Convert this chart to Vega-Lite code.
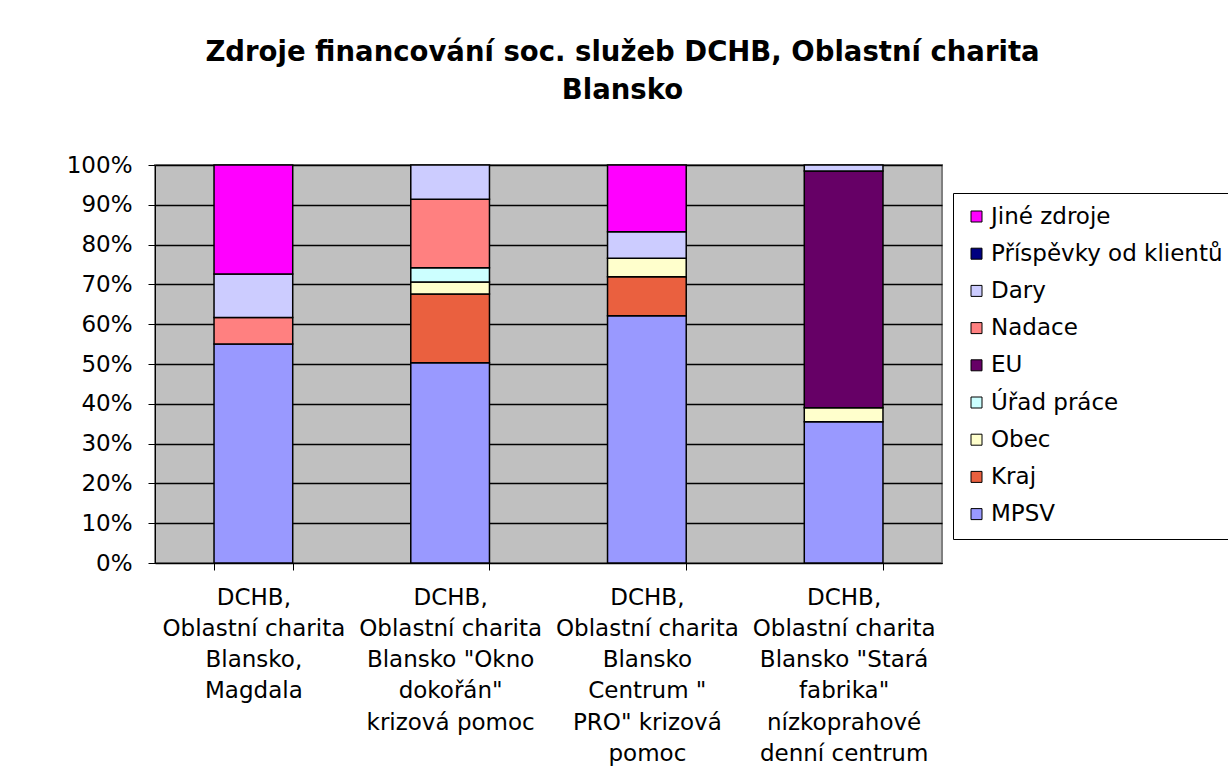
{
  "$schema": "https://vega.github.io/schema/vega-lite/v6.json",
  "autosize": "none",
  "width": 787,
  "height": 398,
  "padding": {"left": 155, "top": 165, "right": 286, "bottom": 220},
  "background": "white",
  "title": {
    "text": ["Zdroje financování soc. služeb DCHB, Oblastní charita", "Blansko"],
    "font": "DejaVu Sans",
    "fontSize": 27.5,
    "fontWeight": "bold",
    "color": "black",
    "anchor": "middle",
    "frame": "group",
    "dx": 74,
    "offset": 50,
    "lineHeight": 38
  },
  "data": {
    "values": [
      {"zarizeni": "DCHB,|Oblastní charita|Blansko,|Magdala", "zdroj": "MPSV", "podil": 55.0},
      {"zarizeni": "DCHB,|Oblastní charita|Blansko,|Magdala", "zdroj": "Nadace", "podil": 6.7},
      {"zarizeni": "DCHB,|Oblastní charita|Blansko,|Magdala", "zdroj": "Dary", "podil": 10.9},
      {"zarizeni": "DCHB,|Oblastní charita|Blansko,|Magdala", "zdroj": "Jiné zdroje", "podil": 27.4},
      {"zarizeni": "DCHB,|Oblastní charita|Blansko \"Okno|dokořán\"|krizová pomoc", "zdroj": "MPSV", "podil": 50.3},
      {"zarizeni": "DCHB,|Oblastní charita|Blansko \"Okno|dokořán\"|krizová pomoc", "zdroj": "Kraj", "podil": 17.3},
      {"zarizeni": "DCHB,|Oblastní charita|Blansko \"Okno|dokořán\"|krizová pomoc", "zdroj": "Obec", "podil": 3.0},
      {"zarizeni": "DCHB,|Oblastní charita|Blansko \"Okno|dokořán\"|krizová pomoc", "zdroj": "Úřad práce", "podil": 3.6},
      {"zarizeni": "DCHB,|Oblastní charita|Blansko \"Okno|dokořán\"|krizová pomoc", "zdroj": "Nadace", "podil": 17.2},
      {"zarizeni": "DCHB,|Oblastní charita|Blansko \"Okno|dokořán\"|krizová pomoc", "zdroj": "Dary", "podil": 8.6},
      {"zarizeni": "DCHB,|Oblastní charita|Blansko|Centrum \"|PRO\" krizová|pomoc", "zdroj": "MPSV", "podil": 62.1},
      {"zarizeni": "DCHB,|Oblastní charita|Blansko|Centrum \"|PRO\" krizová|pomoc", "zdroj": "Kraj", "podil": 9.8},
      {"zarizeni": "DCHB,|Oblastní charita|Blansko|Centrum \"|PRO\" krizová|pomoc", "zdroj": "Obec", "podil": 4.7},
      {"zarizeni": "DCHB,|Oblastní charita|Blansko|Centrum \"|PRO\" krizová|pomoc", "zdroj": "Dary", "podil": 6.6},
      {"zarizeni": "DCHB,|Oblastní charita|Blansko|Centrum \"|PRO\" krizová|pomoc", "zdroj": "Jiné zdroje", "podil": 16.8},
      {"zarizeni": "DCHB,|Oblastní charita|Blansko \"Stará|fabrika\"|nízkoprahové|denní centrum", "zdroj": "MPSV", "podil": 35.5},
      {"zarizeni": "DCHB,|Oblastní charita|Blansko \"Stará|fabrika\"|nízkoprahové|denní centrum", "zdroj": "Obec", "podil": 3.5},
      {"zarizeni": "DCHB,|Oblastní charita|Blansko \"Stará|fabrika\"|nízkoprahové|denní centrum", "zdroj": "EU", "podil": 59.5},
      {"zarizeni": "DCHB,|Oblastní charita|Blansko \"Stará|fabrika\"|nízkoprahové|denní centrum", "zdroj": "Dary", "podil": 1.5}
    ]
  },
  "transform": [
    {"calculate": "indexof(['MPSV','Kraj','Obec','Úřad práce','EU','Nadace','Dary','Příspěvky od klientů','Jiné zdroje'], datum.zdroj)", "as": "poradi"}
  ],
  "mark": {"type": "bar", "stroke": "black", "strokeWidth": 1.5},
  "encoding": {
    "x": {
      "field": "zarizeni",
      "type": "nominal",
      "sort": null,
      "scale": {"paddingInner": 0.6, "paddingOuter": 0.3},
      "axis": {
        "title": null,
        "labelAngle": 0,
        "labelExpr": "split(datum.label, '|')",
        "labelFont": "DejaVu Sans",
        "labelFontSize": 23,
        "labelColor": "black",
        "labelLineHeight": 31.3,
        "labelBaseline": "top",
        "labelPadding": 16,
        "tickBand": "extent",
        "tickColor": "black",
        "tickSize": 7,
        "domainColor": "black",
        "labelLimit": 0
      }
    },
    "y": {
      "field": "podil",
      "type": "quantitative",
      "stack": "normalize",
      "axis": {
        "title": null,
        "format": ".0%",
        "values": [0, 0.1, 0.2, 0.3, 0.4, 0.5, 0.6, 0.7, 0.8, 0.9, 1],
        "labelFont": "DejaVu Sans",
        "labelFontSize": 23,
        "labelColor": "black",
        "labelPadding": 16,
        "tickColor": "black",
        "tickSize": 7,
        "domainColor": "black",
        "grid": true,
        "gridColor": "black",
        "gridWidth": 1.5
      }
    },
    "order": {"field": "poradi", "type": "quantitative"},
    "color": {
      "field": "zdroj",
      "type": "nominal",
      "scale": {
        "domain": ["Jiné zdroje", "Příspěvky od klientů", "Dary", "Nadace", "EU", "Úřad práce", "Obec", "Kraj", "MPSV"],
        "range": ["#FF00FF", "#000080", "#CCCCFF", "#FF8080", "#660066", "#CCFFFF", "#FFFFCC", "#EA603F", "#9999FF"]
      },
      "legend": {
        "title": null,
        "orient": "none",
        "legendX": 798,
        "legendY": 28,
        "padding": 12,
        "strokeColor": "black",
        "fillColor": "white",
        "symbolType": "square",
        "symbolSize": 121,
        "symbolStrokeColor": "black",
        "symbolStrokeWidth": 1,
        "labelFont": "DejaVu Sans",
        "labelFontSize": 23,
        "labelColor": "black",
        "labelLimit": 300,
        "rowPadding": 13.2,
        "labelOffset": 3,
        "values": ["Jiné zdroje", "Příspěvky od klientů", "Dary", "Nadace", "EU", "Úřad práce", "Obec", "Kraj", "MPSV"]
      }
    }
  },
  "config": {
    "view": {"fill": "#C0C0C0", "stroke": "#808080", "strokeWidth": 2}
  }
}
